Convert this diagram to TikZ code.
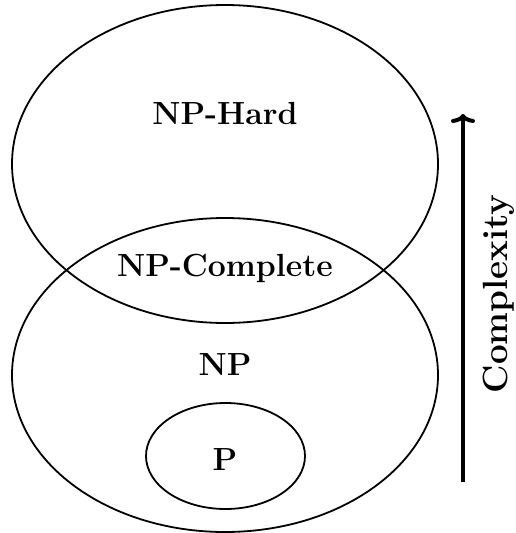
\documentclass[tikz,border=0pt]{standalone}
\usetikzlibrary{arrows.meta}
\begin{document}
\begin{tikzpicture}[x=1pt,y=-1pt,
  setline/.style={line width=1.8pt},
  lbl/.style={font=\fontsize{32}{38}\selectfont\bfseries, inner sep=0pt}]
\useasboundingbox (0,0) rectangle (515,533);
\draw[setline] (225,164) ellipse [x radius=213, y radius=159];
\draw[setline] (225,375) ellipse [x radius=213, y radius=157];
\draw[setline] (225.5,456) ellipse [x radius=79.5, y radius=53];
\node[lbl] (hard) at (225,113) {NP-Hard};
\node[lbl] (comp) at (225,268) {NP-Complete};
\node[lbl] (np) at (225,365) {NP};
\node[lbl] (p) at (225,460) {P};
\coordinate (lo) at (463,482);
\coordinate (hi) at (463,114);
\draw[line width=4pt, -{To[length=9pt,width=24pt,round]}] (lo) -- (hi);
\node[lbl, font=\fontsize{35}{42}\selectfont\bfseries, rotate=90] (cx) at (499,294) {Complexity};
\end{tikzpicture}
\end{document}
